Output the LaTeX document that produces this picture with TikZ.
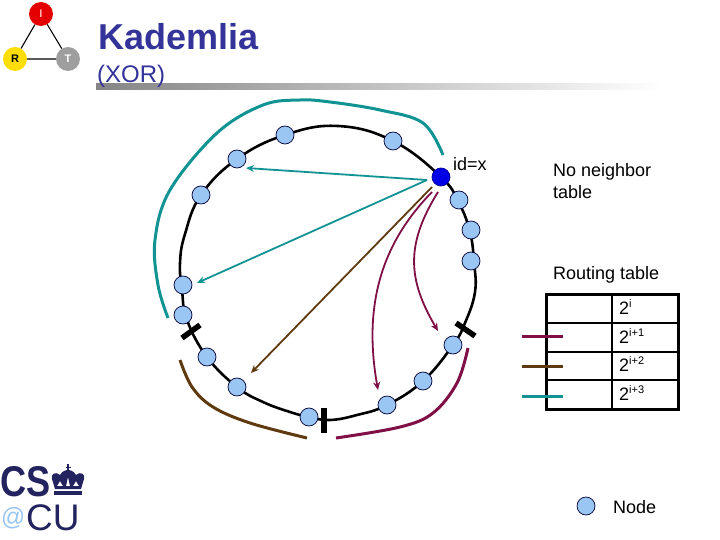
\documentclass[tikz,border=0pt]{standalone}
\usepackage{fontspec}
\setmainfont{Liberation Sans}
\usetikzlibrary{arrows.meta}
\definecolor{ringfill}{HTML}{99C6F2}
\definecolor{tealc}{HTML}{119393}
\definecolor{brownc}{HTML}{5F3A10}
\definecolor{maroonc}{HTML}{7F0F45}
\definecolor{navyc}{HTML}{333399}
\definecolor{logoc}{HTML}{23235F}
\tikzset{
 ringnode/.style={circle,draw=black!80!blue,line width=0.7pt,fill=ringfill,minimum size=18pt,inner sep=0pt},
 logonode/.style={circle,minimum size=24pt,inner sep=0pt,font=\fontsize{11}{11}\selectfont\bfseries},
 lab/.style={anchor=base west,inner sep=0pt,font=\fontsize{18}{18}\selectfont},
 tlab/.style={anchor=base west,inner sep=0pt,font=\fontsize{18}{18}\selectfont},
 tick/.style={line width=5.5pt},
 arc/.style={line width=3pt,line cap=butt},
 arr/.style={line width=1.8pt,-{Stealth[length=8pt,width=7pt]}},
 tabline/.style={line width=1.8pt},
 tabout/.style={line width=3pt},
 leg/.style={line width=3pt},
}
\begin{document}
\begin{tikzpicture}[x=1pt,y=-1pt]
\useasboundingbox (0,0) rectangle (720,540);
% title bar
\shade[left color=black!48,right color=white] (96,84) rectangle (662,90);
\node[anchor=base west,inner sep=0pt,text=navyc,font=\fontsize{36}{36}\selectfont\bfseries] (title) at (98,50) {Kademlia};
\node[anchor=base west,inner sep=0pt,text=navyc,font=\fontsize{24}{24}\selectfont] (sub) at (97,83) {(XOR)};
% top logo
\node[logonode,fill=red!90!black,text=white!70!red] (li) at (41,14) {I};
\node[logonode,fill=yellow!80!orange] (lr) at (15,59) {R};
\node[logonode,fill=black!38,text=white] (lt) at (68,59) {T};
\draw[line width=1.1pt] (li) -- (lr) (lr) -- (lt) (lt) -- (li);
% ring
\coordinate (xa) at (475,292);
\coordinate (xb) at (338,126);
\coordinate (xc) at (185,234);
\draw[line width=2.6pt] plot[smooth cycle,tension=0.7] coordinates {
 (441,177) (459,203) (470,232) (474,262) (xa) (465,323) (453,345) (423,381) (387,405) (357,415) (330,420) (309,417) (290,412) (263,402) (237,387) (207,357) (187,320) (182,290) (180,263) (xc) (201,195) (237,159) (285,135) (xb) (393,141)};
\foreach \n/\p in {a/{459,200},b/{471,230},c/{471,261},d/{453,345},e/{423,381},f/{387,405},g/{309,417},h/{237,387},i/{207,357},j/{183,315},k/{183,285},l/{201,195},m/{237,159},n/{285,135},o/{393,141}}
  \node[ringnode] (r\n) at (\p) {};
\node[ringnode,fill=blue!90!black,draw=blue!60!black] (self) at (441,177) {};
\node[lab] (idx) at (453,171) {id=x};
% ticks
\coordinate (t1a) at (182,338); \coordinate (t1b) at (200,325);
\coordinate (t2a) at (324,408); \coordinate (t2b) at (324,433);
\coordinate (t3a) at (456,323); \coordinate (t3b) at (475,336);
\draw[tick] (t1a) -- (t1b);
\draw[tick] (t2a) -- (t2b);
\draw[tick] (t3a) -- (t3b);
% range arcs
\draw[arc,tealc] plot[smooth,tension=0.6] coordinates {(443,155) (423,123) (380,110) (330,102) (300,100) (263,105) (217,133) (170,190) (155,240) (158,285) (168,318)};
\draw[arc,brownc] plot[smooth,tension=0.6] coordinates {(180,360) (192,387) (213,407) (250,423) (307,438)};
\draw[arc,maroonc] plot[smooth,tension=0.6] coordinates {(468,348) (457,383) (433,413) (400,427) (336,438)};
% arrows
\coordinate (s1) at (427,180);
\coordinate (s2) at (432,187);
\coordinate (s3) at (432,192);
\coordinate (s4) at (438,192);
\coordinate (e1) at (246,168);
\coordinate (e2) at (197,283);
\coordinate (e3) at (251,373);
\coordinate (e4) at (378,390);
\coordinate (e5) at (438,331);
\draw[arr,tealc] (s1) -- (e1);
\draw[arr,tealc] (s1) -- (e2);
\draw[arr,brownc] (s2) -- (e3);
\draw[arr,maroonc] (s3) .. controls (385,240) and (362,300) .. (e4);
\draw[arr,maroonc] (s4) .. controls (405,245) and (408,280) .. (e5);
% texts
\node[lab] (nn1) at (553,177) {No neighbor};
\node[lab] (nn2) at (553,199) {table};
\node[lab] (rt) at (553,279) {Routing table};
% table
\coordinate (tl) at (546,294); \coordinate (tr) at (678,294);
\coordinate (bl) at (546,409); \coordinate (br) at (678,409);
\coordinate (ct) at (612,294); \coordinate (cb) at (612,409);
\coordinate (l1) at (546,323); \coordinate (r1) at (678,323);
\coordinate (l2) at (546,352); \coordinate (r2) at (678,352);
\coordinate (l3) at (546,380); \coordinate (r3) at (678,380);
\draw[tabline] (l1) -- (r1);
\draw[tabline] (l2) -- (r2);
\draw[tabline] (l3) -- (r3);
\draw[tabline] (ct) -- (cb);
\draw[tabout] (tl) -- (tr) -- (br) -- (bl) -- cycle;
\node[tlab] (p0) at (619,314) {2\raisebox{7pt}{\fontsize{11}{11}\selectfont i}};
\node[tlab] (p1) at (619,343) {2\raisebox{7pt}{\fontsize{11}{11}\selectfont i+1}};
\node[tlab] (p2) at (619,371) {2\raisebox{7pt}{\fontsize{11}{11}\selectfont i+2}};
\node[tlab] (p3) at (619,400) {2\raisebox{7pt}{\fontsize{11}{11}\selectfont i+3}};
% legend lines
\coordinate (la1) at (522,336); \coordinate (lb1) at (563,336);
\coordinate (la2) at (522,366); \coordinate (lb2) at (563,366);
\coordinate (la3) at (522,396); \coordinate (lb3) at (563,396);
\draw[leg,maroonc] (la1) -- (lb1);
\draw[leg,brownc] (la2) -- (lb2);
\draw[leg,tealc] (la3) -- (lb3);
% node legend
\node[ringnode] (leg) at (586,506) {};
\node[lab] (legt) at (613,513) {Node};
% CS@CU logo
\node[anchor=base west,inner sep=0pt,text=logoc,font=\fontsize{43}{43}\selectfont\bfseries] (cs) at (0,496) {\scalebox{0.84}[1]{CS}};
\node[anchor=base west,inner sep=0pt,text=ringfill,font=\fontsize{25}{25}\selectfont] (at) at (1,525) {\scalebox{0.95}[1]{@}};
\node[anchor=base west,inner sep=0pt,text=logoc,font=\fontsize{37}{37}\selectfont] (cu) at (26,530) {CU};
\begin{scope}[shift={(0,6)}]
\fill[logoc,even odd rule] (55,483) -- (52,473) .. controls (50,468) and (56,465) .. (60,469) .. controls (62,465) and (66,464) .. (68,464)
 .. controls (70,464) and (74,465) .. (76,469) .. controls (80,465) and (86,468) .. (84,473) -- (81,483) -- cycle
 (57,480) -- (60,475) -- (63,480) -- cycle (73,480) -- (76,475) -- (79,480) -- cycle (66,480) -- (68,471) -- (70,480) -- cycle;
\fill[logoc] (54,485) rectangle (82,489);
\fill[logoc] (67,464) rectangle (69,458);
\fill[logoc] (65.5,460.5) rectangle (70.5,462);
\end{scope}
\end{tikzpicture}
\end{document}
